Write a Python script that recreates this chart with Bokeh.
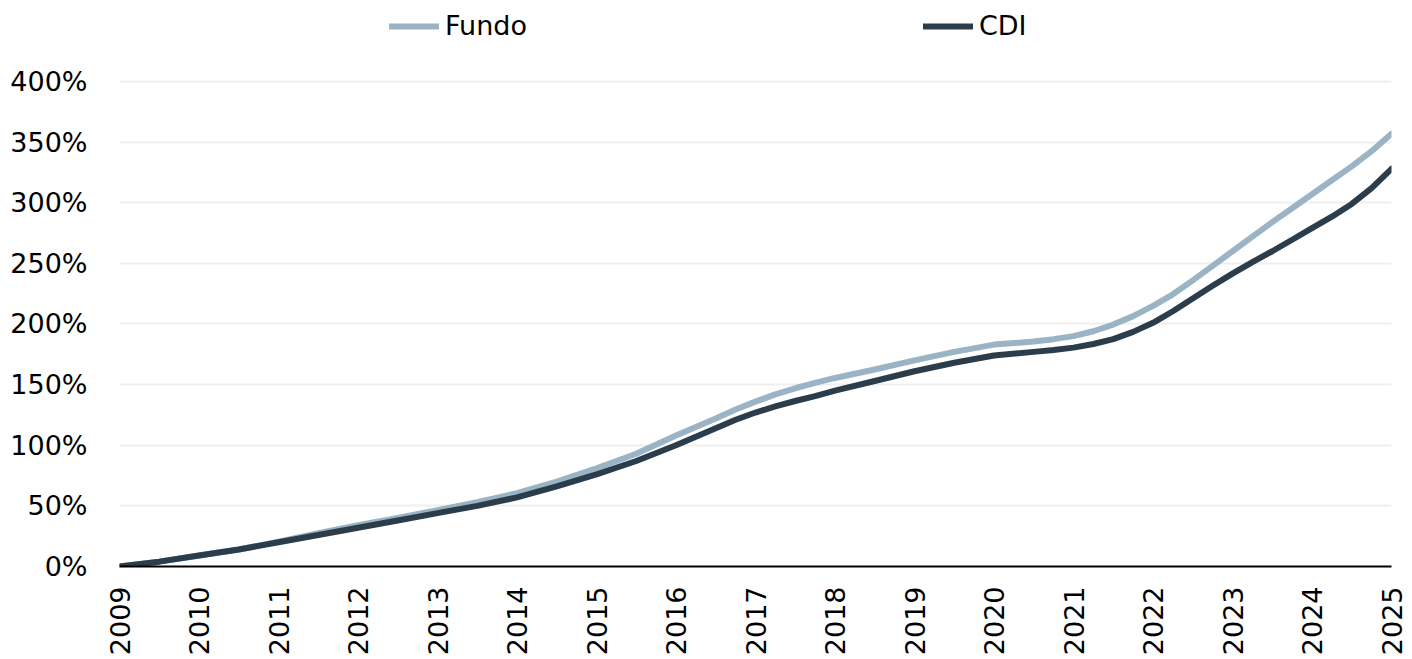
from bokeh.plotting import figure
from bokeh.models import Range1d, Legend, LegendItem, FixedTicker, CustomJSTickFormatter
from bokeh.embed import file_html
from bokeh.resources import INLINE
import math

years = [2009, 2009.5, 2010, 2010.5, 2011, 2011.5, 2012, 2012.5, 2013, 2013.5,
         2014, 2014.5, 2015, 2015.5, 2016, 2016.5, 2016.75, 2017, 2017.25, 2017.5,
         2017.75, 2018, 2018.5, 2019, 2019.5, 2020, 2020.5, 2020.75, 2021, 2021.25,
         2021.5, 2021.75, 2022, 2022.25, 2022.5, 2022.75, 2023, 2023.25, 2023.5, 2023.75,
         2024, 2024.25, 2024.5, 2024.75, 2025]
fundo = [0, 4, 9, 14, 20.5, 27.5, 34, 40, 46.5, 53,
         60.5, 70, 81, 93, 108, 122, 129.5, 136, 142, 147,
         151.5, 155.5, 162.5, 170, 177, 183, 185.5, 187.5, 190, 194,
         199.5, 206.5, 215, 224.5, 236, 248, 260, 272, 284, 295.5,
         307, 318.5, 330, 342.5, 357]
cdi = [0, 4, 9, 14, 20, 26, 32, 38, 44, 50,
       57, 66, 76, 87, 100, 114, 121, 127, 132, 136.5,
       140.5, 145, 153, 161, 168, 174, 177, 178.5, 180.5, 183.5,
       187.5, 193.5, 201, 210.5, 221, 231.5, 241.5, 251, 260, 269.5,
       279, 288.5, 299, 312, 328]
x_ticks = [2009, 2010, 2011, 2012, 2013, 2014, 2015, 2016, 2017, 2018,
           2019, 2020, 2021, 2022, 2023, 2024, 2025]
y_ticks = [0, 50, 100, 150, 200, 250, 300, 350, 400]

FONT = "DejaVu Sans"
C_FUNDO = "#9ab4c5"
C_CDI = "#2b3d4b"

p = figure(width=1412, height=659, output_backend="svg", toolbar_location=None,
           x_range=Range1d(2009, 2025), y_range=Range1d(0, 466.8),
           min_border_left=119, min_border_right=21, min_border_top=0, min_border_bottom=93)
p.outline_line_color = None
p.background_fill_color = "white"
p.border_fill_color = "white"

r1 = p.line(years, fundo, line_color=C_FUNDO, line_width=6, line_cap="round", line_join="round")
r2 = p.line(years, cdi, line_color=C_CDI, line_width=6, line_cap="round", line_join="round")

p.xgrid.grid_line_color = None
p.ygrid.grid_line_color = "#efefef"
p.ygrid.grid_line_width = 2
p.ygrid.ticker = FixedTicker(ticks=y_ticks)

p.yaxis.ticker = FixedTicker(ticks=y_ticks)
p.yaxis.formatter = CustomJSTickFormatter(code="return tick.toFixed(0) + '%';")
p.yaxis.axis_line_color = None
p.yaxis.major_tick_line_color = None
p.yaxis.minor_tick_line_color = None
p.yaxis.major_label_text_font = FONT
p.yaxis.major_label_text_font_size = "27px"
p.yaxis.major_label_text_color = "black"
p.yaxis.major_label_standoff = 26

p.xaxis.ticker = FixedTicker(ticks=x_ticks)
p.xaxis.formatter = CustomJSTickFormatter(code="return tick.toFixed(0);")
p.xaxis.axis_line_color = "black"
p.xaxis.axis_line_width = 2
p.xaxis.major_tick_line_color = None
p.xaxis.minor_tick_line_color = None
p.xaxis.major_label_orientation = math.pi / 2
p.xaxis.major_label_text_font = FONT
p.xaxis.major_label_text_font_size = "27px"
p.xaxis.major_label_text_color = "black"
p.xaxis.major_label_standoff = 14

legend = Legend(items=[LegendItem(label="Fundo", renderers=[r1]),
                       LegendItem(label="CDI", renderers=[r2])],
                orientation="horizontal", location=(270, 525),
                glyph_width=50, glyph_height=20, label_standoff=6, spacing=396,
                padding=0, margin=0, border_line_alpha=0, background_fill_alpha=0,
                label_text_font=FONT, label_text_font_size="27px", label_text_color="black")
p.add_layout(legend, "center")

open("out.html", "w").write(file_html(p, INLINE))
